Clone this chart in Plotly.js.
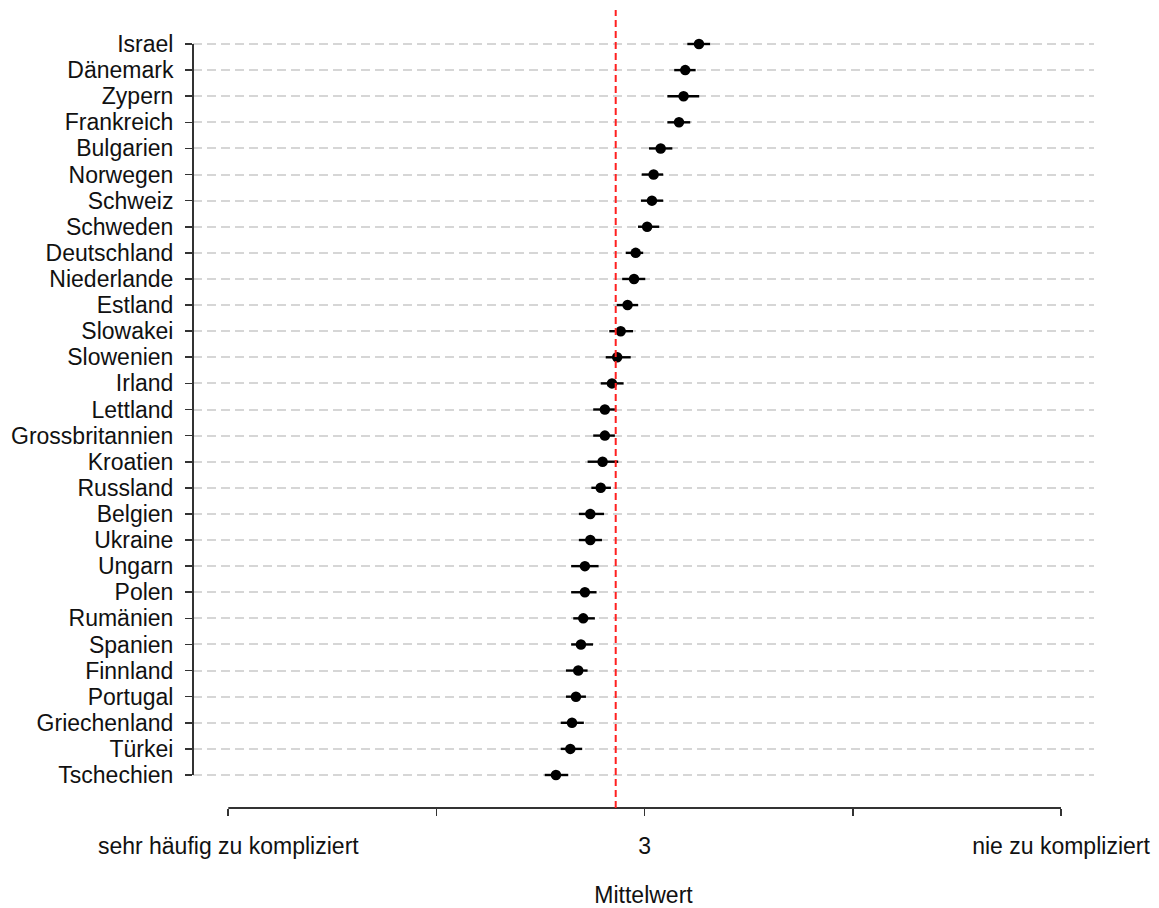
<!DOCTYPE html>
<html>
<head>
<meta charset="utf-8">
<script src="https://cdn.plot.ly/plotly-3.0.1.min.js"></script>
<style>
  html, body { margin: 0; padding: 0; background: #fff; }
  #chart { width: 1159px; height: 908px; }
</style>
</head>
<body>
<div id="chart"></div>
<script>
// Länder, von oben nach unten
const countries = [
  "Israel", "Dänemark", "Zypern", "Frankreich", "Bulgarien", "Norwegen",
  "Schweiz", "Schweden", "Deutschland", "Niederlande", "Estland", "Slowakei",
  "Slowenien", "Irland", "Lettland", "Grossbritannien", "Kroatien", "Russland",
  "Belgien", "Ukraine", "Ungarn", "Polen", "Rumänien", "Spanien", "Finnland",
  "Portugal", "Griechenland", "Türkei", "Tschechien"
];

// Mittelwerte je Land
const means = [
  3.261, 3.195, 3.187, 3.165, 3.077, 3.043,
  3.035, 3.012, 2.957, 2.949, 2.918, 2.885,
  2.868, 2.843, 2.809, 2.809, 2.798, 2.789,
  2.739, 2.739, 2.713, 2.713, 2.705, 2.694, 2.681,
  2.670, 2.651, 2.643, 2.574
];

// Untere und obere Grenzen der Konfidenzintervalle
const lower = [
  3.205, 3.142, 3.109, 3.109, 3.021, 2.986,
  2.982, 2.968, 2.909, 2.892, 2.866, 2.830,
  2.813, 2.789, 2.753, 2.753, 2.726, 2.744,
  2.684, 2.684, 2.647, 2.647, 2.657, 2.647, 2.622,
  2.622, 2.597, 2.597, 2.520
];
const upper = [
  3.315, 3.245, 3.262, 3.219, 3.133, 3.089,
  3.089, 3.070, 2.993, 3.003, 2.969, 2.944,
  2.933, 2.899, 2.857, 2.857, 2.873, 2.838,
  2.805, 2.795, 2.779, 2.769, 2.761, 2.752, 2.726,
  2.718, 2.708, 2.700, 2.633
];

// Gesamtmittelwert (rote Referenzlinie)
const overallMean = 2.861;

// Skala der Antwortkategorien
const scaleVals = [1, 2, 3, 4, 5];
const scaleLabels = ["sehr häufig zu kompliziert", "", "3", "", "nie zu kompliziert"];

const rowIdx = countries.map((_, i) => i);
const FONT = "Arial, 'Liberation Sans', sans-serif";
const INK = "#111111";

const trace = {
  type: "scatter",
  mode: "markers",
  x: means,
  y: rowIdx,
  marker: { color: "#000000", size: 10.5 },
  error_x: {
    type: "data",
    symmetric: false,
    array: upper.map((u, i) => u - means[i]),
    arrayminus: lower.map((l, i) => means[i] - l),
    color: "#000000",
    thickness: 2.4,
    width: 0
  },
  hoverinfo: "skip",
  showlegend: false
};

const layout = {
  width: 1159,
  height: 908,
  margin: { l: 193, r: 65, t: 10, b: 100 },
  paper_bgcolor: "#ffffff",
  plot_bgcolor: "#ffffff",
  font: { family: FONT, size: 23, color: INK },
  showlegend: false,
  xaxis: {
    range: [0.8305, 5.1585],
    tickmode: "array",
    tickvals: scaleVals,
    ticktext: scaleLabels,
    ticks: "outside",
    ticklen: 7,
    tickwidth: 1.6,
    tickcolor: "#333333",
    ticklabelstandoff: 10,
    showgrid: false,
    zeroline: false,
    showline: false,
    tickfont: { family: FONT, size: 23, color: INK },
    title: { text: "Mittelwert", font: { family: FONT, size: 23, color: INK }, standoff: 31 },
    automargin: false
  },
  yaxis: {
    range: [29.264, -1.302],
    tickmode: "array",
    tickvals: rowIdx,
    ticktext: countries,
    ticks: "outside",
    ticklen: 7,
    tickwidth: 1.6,
    tickcolor: "#333333",
    ticklabelstandoff: 7,
    showgrid: true,
    gridcolor: "#d6d6d6",
    gridwidth: 2,
    griddash: "9px,5px",
    zeroline: false,
    showline: false,
    tickfont: { family: FONT, size: 23, color: INK },
    automargin: false
  },
  shapes: [
    // x-Achse nur über den Skalenbereich 1–5
    {
      type: "line", xref: "x", yref: "paper",
      x0: scaleVals[0], x1: scaleVals[scaleVals.length - 1], y0: 0, y1: 0,
      line: { color: "#333333", width: 2 }
    },
    // y-Achse vom ersten bis zum letzten Land
    {
      type: "line", xref: "paper", yref: "y",
      x0: 0, x1: 0, y0: 0, y1: countries.length - 1,
      line: { color: "#333333", width: 2 }
    },
    // Gesamtmittelwert
    {
      type: "line", xref: "x", yref: "paper",
      x0: overallMean, x1: overallMean, y0: 0, y1: 1,
      line: { color: "#ff2020", width: 2, dash: "7px,4px" }
    }
  ]
};

Plotly.newPlot("chart", [trace], layout, { displayModeBar: false, staticPlot: true });
</script>
</body>
</html>
